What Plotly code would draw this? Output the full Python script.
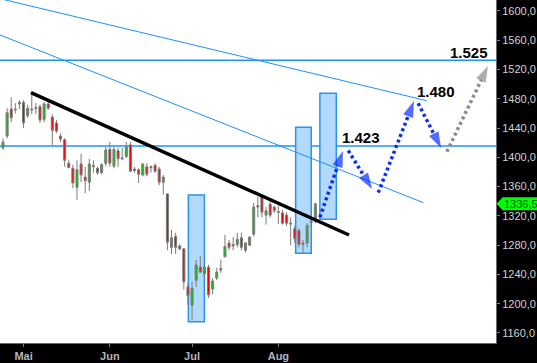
import plotly.graph_objects as go

# ---------------- data ----------------
opens = [1413, 1429, 1466, 1466, 1475, 1475, 1457, 1466, 1468, 1469,
         1452, 1473, 1455, 1447, 1429, 1424, 1392, 1385, 1359, 1391,
         1373, 1366, 1387, 1385, 1379, 1392, 1411, 1388, 1409, 1398,
         1401, 1417, 1384, 1383, 1376, 1387, 1386, 1389, 1384, 1366,
         1350, 1277, 1292, 1279, 1275, 1223, 1198, 1232, 1250, 1241,
         1250, 1220, 1235, 1246, 1264, 1283, 1279, 1281, 1290, 1273,
         1280, 1295, 1332, 1346, 1321, 1336, 1332, 1326, 1324, 1321,
         1310, 1303, 1300, 1281, 1283, 1311, 1312]
highs = [1426, 1467, 1482, 1474, 1478, 1478, 1472, 1485, 1474, 1472,
         1476, 1476, 1459, 1451, 1433, 1426, 1396, 1390, 1396, 1405,
         1387, 1398, 1396, 1387, 1392, 1414, 1421, 1414, 1413, 1413,
         1421, 1421, 1387, 1385, 1392, 1392, 1389, 1392, 1387, 1376,
         1351, 1301, 1297, 1281, 1276, 1228, 1230, 1260, 1265, 1253,
         1253, 1235, 1249, 1260, 1294, 1287, 1291, 1297, 1297, 1284,
         1292, 1338, 1346, 1349, 1332, 1340, 1334, 1334, 1328, 1325,
         1318, 1307, 1303, 1287, 1310, 1317, 1338]
lows = [1410, 1426, 1448, 1460, 1466, 1440, 1454, 1459, 1459, 1447,
        1448, 1465, 1417, 1433, 1421, 1387, 1385, 1358, 1342, 1366,
        1351, 1354, 1379, 1376, 1377, 1388, 1387, 1385, 1387, 1396,
        1399, 1380, 1379, 1365, 1374, 1374, 1379, 1379, 1362, 1349,
        1273, 1268, 1268, 1273, 1219, 1198, 1178, 1223, 1242, 1237,
        1208, 1213, 1232, 1242, 1264, 1273, 1273, 1277, 1273, 1270,
        1279, 1292, 1318, 1318, 1308, 1318, 1324, 1309, 1308, 1306,
        1280, 1283, 1277, 1269, 1277, 1305, 1310]
closes = [1421, 1461, 1454, 1465, 1473, 1447, 1467, 1465, 1467, 1451,
          1473, 1467, 1437, 1436, 1425, 1396, 1386, 1365, 1383, 1376,
          1368, 1391, 1389, 1379, 1390, 1410, 1392, 1411, 1398, 1399,
          1414, 1381, 1382, 1377, 1391, 1377, 1387, 1381, 1366, 1373,
          1284, 1290, 1277, 1275, 1230, 1211, 1221, 1253, 1243, 1250,
          1212, 1231, 1243, 1248, 1278, 1277, 1281, 1288, 1277, 1283,
          1291, 1332, 1334, 1325, 1327, 1321, 1327, 1325, 1310, 1310,
          1309, 1289, 1281, 1283, 1307, 1312, 1336.5]
session = list(range(len(closes)))  # trading-day index

month_ticks = [5, 26, 46, 67]
month_labels = ["Mai", "Jun", "Jul", "Aug"]

price_ticks = [1160, 1200, 1240, 1280, 1320, 1360, 1400, 1440, 1480, 1520, 1560, 1600]
price_labels = ["1160,0", "1200,0", "1240,0", "1280,0", "1320,0", "1360,0",
                "1400,0", "1440,0", "1480,0", "1520,0", "1560,0", "1600,0"]

# drawn analysis objects (data coordinates)
trend_x = [6.8, 84.2]
trend_y = [1488.4, 1293.9]
chan_a_x = [-0.73, 103.1]
chan_a_y = [1616.8, 1477.4]
chan_b_x = [-0.73, 102.3]
chan_b_y = [1567.2, 1338.0]
h_levels = [1532.5, 1415.5]

box_x0 = [45.1, 71.2, 77.1]
box_x1 = [49.0, 75.0, 81.1]
box_lo = [1175.4, 1268.9, 1315.4]
box_hi = [1348.6, 1441.1, 1487.5]

proj_x = [[77.1, 82.7], [84.0, 89.8], [91.3, 100.0], [101.0, 106.6], [108.0, 118.0]]
proj_y = [[1318.1, 1408.7], [1409.3, 1356.8], [1351.7, 1477.0], [1473.9, 1412.8], [1407.7, 1524.8]]
proj_color = ["blue", "blue", "blue", "blue", "grey"]

target_labels = ["1.423", "1.480", "1.525"]
target_x = [87.1, 105.4, 113.4]
target_y = [1427.1, 1489.3, 1542.6]

# ---------------- figure ----------------
FONT = "Arial, Liberation Sans, sans-serif"
BLUE_LINE = "#1e90ff"
ARROW_BLUE = "#0a2cff"
ARROW_GREY = "#8c8c8c"

fig = go.Figure()

fig.add_trace(go.Candlestick(
    x=session, open=opens, high=highs, low=lows, close=closes,
    increasing=dict(fillcolor="#00cc00", line=dict(color="#7a7a7a", width=1)),
    decreasing=dict(fillcolor="#ee0000", line=dict(color="#7a7a7a", width=1)),
    whiskerwidth=0, showlegend=False, hoverinfo="skip",
))

for xs, ys in [(chan_a_x, chan_a_y), (chan_b_x, chan_b_y)]:
    fig.add_trace(go.Scatter(x=xs, y=ys, mode="lines",
                             line=dict(color=BLUE_LINE, width=1),
                             showlegend=False, hoverinfo="skip"))

fig.add_trace(go.Scatter(x=trend_x, y=trend_y, mode="lines",
                         line=dict(color="black", width=3.5),
                         showlegend=False, hoverinfo="skip"))

for xs, ys, c in zip(proj_x, proj_y, proj_color):
    col = ARROW_BLUE if c == "blue" else ARROW_GREY
    fig.add_trace(go.Scatter(
        x=xs, y=ys, mode="lines+markers",
        line=dict(color=col, width=3.5, dash="3px,3px"),
        marker=dict(symbol="arrow", angleref="previous", size=[0, 17],
                    color=col, line=dict(width=0)),
        showlegend=False, hoverinfo="skip"))

for x0, x1, lo, hi in zip(box_x0, box_x1, box_lo, box_hi):
    fig.add_shape(type="rect", x0=x0, x1=x1, y0=lo, y1=hi, xref="x", yref="y",
                  fillcolor="rgb(178,218,255)", line=dict(color="#2a93f0", width=1.5),
                  layer="below")

for lv in h_levels:
    fig.add_shape(type="line", xref="paper", x0=0, x1=1, yref="y", y0=lv, y1=lv,
                  line=dict(color=BLUE_LINE, width=1.5), layer="below")

for t, x, y in zip(target_labels, target_x, target_y):
    fig.add_annotation(x=x, y=y, xref="x", yref="y", text="<b>%s</b>" % t,
                       showarrow=False, font=dict(family=FONT, size=15, color="black"))

# last price tag on the right axis
fig.add_shape(type="path", xref="paper", yref="y", ysizemode="pixel",
              yanchor=closes[-1],
              path="M 1.001,0 L 1.0135,6.5 L 1.09,6.5 L 1.09,-6.5 L 1.0135,-6.5 Z",
              fillcolor="#00ff00", line=dict(width=0), layer="above")
fig.add_annotation(x=1, xref="paper", xanchor="left", xshift=6, y=closes[-1], yref="y",
                   text="%s" % ("%.1f" % closes[-1]).replace(".", ","), showarrow=False,
                   font=dict(family=FONT, size=11, color="#1a4d1a"))

fig.update_layout(
    width=537, height=363,
    margin=dict(l=0, r=41, t=0, b=20),
    paper_bgcolor="black", plot_bgcolor="white",
    font=dict(family=FONT),
    showlegend=False,
    xaxis=dict(range=[-0.73, 119.95], tickvals=month_ticks, ticktext=month_labels,
               showgrid=False, zeroline=False, showline=True, linecolor="#6a6a6a",
               ticks="outside", ticklen=3, tickcolor="#808080",
               tickfont=dict(family=FONT, size=11, color="#b4b4bc", weight="bold"),
               rangeslider=dict(visible=False), fixedrange=True),
    yaxis=dict(range=[1146.3, 1615.0], side="right", tickvals=price_ticks,
               ticktext=price_labels, showgrid=False, zeroline=False,
               showline=True, linecolor="#6a6a6a", ticks="outside", ticklen=3,
               tickcolor="#808080",
               tickfont=dict(family=FONT, size=11, color="#d2d2d2"), fixedrange=True),
)

fig.write_html("out.html", config={"displayModeBar": False},
               post_script="document.body.style.margin='0';document.body.style.background='black';")
